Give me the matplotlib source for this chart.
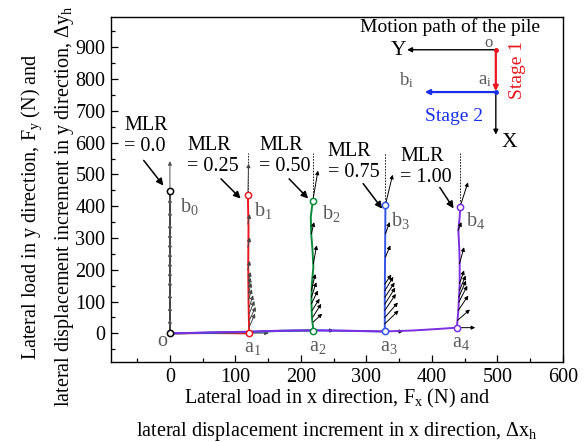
import matplotlib
matplotlib.use("Agg")
import matplotlib.pyplot as plt
from matplotlib.ticker import MultipleLocator

plt.rcParams["font.family"] = ["Liberation Serif", "DejaVu Serif"]
plt.rcParams["mathtext.fontset"] = "custom"
plt.rcParams["mathtext.rm"] = "Liberation Serif"
plt.rcParams["mathtext.it"] = "Liberation Serif:italic"

GRAY = "#5a5a5a"
COLORS = ["#3a3a3a", "#e81820", "#0c8a3c", "#3355e6", "#7a30e0"]
MLR = ["0.0", "0.25", "0.50", "0.75", "1.00"]

# load paths (x, y) for each MLR: stage 1 along x, stage 2 along y
path_x = [
    [0, 0],
    [0, 60, 121, 120, 119.5, 120, 119],
    [0, 60, 121, 170, 219, 216.7, 216, 216.7, 219, 217.7, 215.7, 215, 218],
    [0, 60, 121, 170, 219, 270, 328, 328, 328.5, 329],
    [0, 40, 80, 120, 160, 200, 240, 280, 328, 370, 410, 438,
     440.3, 442.3, 442.3, 441.8, 440.3, 442.3, 443.3],
]
path_y = [
    [0, 447],
    [0, 1, 0, 100, 220, 330, 434],
    [0, 2, 4, 8, 9, 51, 104, 157, 209, 261, 313, 366, 416],
    [0, 2, 5, 8, 10, 8, 6, 120, 260, 405],
    [0, 2, 4, 5, 8, 9, 9, 8, 6, 9, 14, 18,
     72, 156, 219, 261, 324, 366, 399],
]

# incremental displacement vectors: base x, base y, dx, dy
vec_x = [
    [0] * 13,
    [121, 121, 121, 121, 120, 120, 120, 120, 119, 119, 119, 119, 121],
    [219, 218, 217, 216, 216, 216, 219, 216, 218, 219],
    [328, 328, 328, 328, 328, 328, 328, 329, 329, 329, 328],
    [439, 440, 441, 441, 442, 442, 442, 440, 443, 438],
]
vec_y = [
    [20, 60, 100, 140, 170, 200, 230, 260, 290, 320, 360, 400, 447],
    [20, 41, 62, 82, 105, 125, 145, 165, 200, 271, 344, 434, 1],
    [36, 51, 72, 93, 114, 135, 219, 313, 416, 9],
    [30, 50, 72, 92, 113, 134, 155, 240, 313, 405, 6],
    [41, 72, 98, 114, 135, 156, 219, 324, 399, 18],
]
vec_u = [
    [0] * 13,
    [9, 10, 8, 6, 5, 4, 3, 3, 3, 3, 3, 1, 30],
    [13.5, 13, 11.5, 10, 7.5, 6, 5, 4, 8, 31],
    [21, 20, 17, 16, 15, 13, 10, 7.5, 6.5, 11, 28],
    [19, 15.5, 13, 11, 9.5, 7, 7, 5, 12, 28],
]
vec_v = [
    [25, 25, 25, 25, 25, 25, 25, 25, 25, 25, 25, 25, 95],
    [42, 42, 40, 38, 34, 34, 30, 28, 28, 31, 31, 100, 0],
    [26, 42, 37, 42, 47, 52, 58, 37, 96, 0],
    [42, 47, 52, 52, 47, 44, 30, 37, 37, 94, 0],
    [34, 47, 52, 52, 47, 42, 52, 26, 76, 0],
]
vec_color = ["#555555", "#444444", "k", "k", "k"]

# labels
mlr_pos = [(-70, 620), (26, 558), (136, 558), (241, 538), (351.5, 524)]
mlr_arrow_from = [(-40, 544), (78, 486), (182, 486), (295, 471), (412, 459)]
mlr_arrow_to = [(-10, 465), (108, 424), (211, 424), (324, 392), (433, 393)]
b_pos = [(15, 399), (129, 388), (232, 376), (338, 355), (451.5, 354)]
a_pos = [(127, -45), (225, -40), (334, -40), (444.7, -30)]
dash_top = 566


def arrow(ax, x0, y0, x1, y1, color="k", lw=0.9, ms=8):
    ax.annotate("", xy=(x1, y1), xytext=(x0, y0),
                arrowprops=dict(arrowstyle="-|>", color=color, lw=lw,
                                mutation_scale=ms, shrinkA=0, shrinkB=0))


fig = plt.figure(figsize=(5.84, 4.42), dpi=100)
ax = fig.add_axes([0.19, 0.181, 0.774, 0.7805])

for i in range(5):
    px, py = path_x[i], path_y[i]
    ax.plot(px, py, color=COLORS[i], lw=1.4, zorder=3)
    if i > 0:
        ax.plot([px[-1], px[-1]], [py[-1], dash_top], ls=(0, (2, 1.5)),
                color="k", lw=0.6, zorder=2)
    for x0, y0, u, v in zip(vec_x[i], vec_y[i], vec_u[i], vec_v[i]):
        arrow(ax, x0, y0, x0 + u, y0 + v, color=vec_color[i], lw=0.7, ms=5.5)

# start / end markers
ax.plot(0, 0, "o", ms=4.5, mfc="white", mec="k", mew=1.1, zorder=6)
for i in range(5):
    ax.plot(path_x[i][-1], path_y[i][-1], "o", ms=4.5, mfc="white",
            mec=COLORS[i] if i else "k", mew=1.1, zorder=6)
a_idx = [2, 4, 6, 11]
for i in range(1, 5):
    k = a_idx[i - 1]
    ax.plot(path_x[i][k], path_y[i][k], "o", ms=4.5, mfc="white",
            mec=COLORS[i], mew=1.1, zorder=6)

for i in range(5):
    ax.text(*mlr_pos[i], f"MLR\n= {MLR[i]}", fontsize=14.5, ha="left",
            va="center", linespacing=1.12)
    arrow(ax, *mlr_arrow_from[i], *mlr_arrow_to[i], lw=1.1, ms=10)
    ax.text(*b_pos[i], r"b$_{\mathregular{%d}}$" % i, fontsize=14.5,
            color=GRAY, ha="left", va="center")
for i in range(4):
    ax.text(*a_pos[i], r"a$_{\mathregular{%d}}$" % (i + 1), fontsize=14.5,
            color=GRAY, ha="center", va="center")
ax.text(-11, -25, "o", fontsize=14.5, color=GRAY, ha="center", va="center")

# inset: motion path of the pile
ax.text(427, 962, "Motion path of the pile", fontsize=14, ha="center",
        va="center")
arrow(ax, 497.5, 892, 362, 892, lw=1.0, ms=7)
arrow(ax, 497.5, 759, 497.5, 625, lw=1.0, ms=7)
arrow(ax, 497.5, 892, 497.5, 762, color="#e81820", lw=1.6, ms=7)
arrow(ax, 497.5, 759, 389, 759, color="#1a2ee8", lw=1.6, ms=7)
ax.plot(497.5, 892, "o", ms=2.5, color="#e81820", zorder=6)
ax.plot(497.5, 759, "o", ms=2.5, color="#1a2ee8", zorder=6)
ax.text(349, 890, "Y", fontsize=15.5, ha="center", va="center")
ax.text(518, 601, "X", fontsize=15.5, ha="center", va="center")
ax.text(487, 912, "o", fontsize=12, color=GRAY, ha="center", va="center")
ax.text(481, 796, r"a$_{\mathregular{i}}$", fontsize=13.5, color=GRAY,
        ha="center", va="center")
ax.text(361, 796, r"b$_{\mathregular{i}}$", fontsize=13.5, color=GRAY,
        ha="center", va="center")
ax.text(530, 827, "Stage 1", fontsize=14, color="#e81820", rotation=90,
        ha="center", va="center")
ax.text(433, 682, "Stage 2", fontsize=14, color="#1a2ee8", ha="center",
        va="center")

ax.set_xlim(-90, 600)
ax.set_ylim(-90, 995)
ax.xaxis.set_major_locator(MultipleLocator(100))
ax.xaxis.set_minor_locator(MultipleLocator(50))
ax.yaxis.set_major_locator(MultipleLocator(100))
ax.yaxis.set_minor_locator(MultipleLocator(50))
ax.tick_params(which="both", direction="in", labelsize=14.5, width=0.9)
ax.tick_params(which="major", length=5, pad=4)
ax.tick_params(which="minor", length=3)
for s in ax.spines.values():
    s.set_linewidth(1.0)

ax.set_xlabel("Lateral load in x direction, F$_{\\mathregular{x}}$ (N) and\n"
              "lateral displacement increment in x direction, "
              "Δx$_{\\mathregular{h}}$", fontsize=14.5, linespacing=1.65,
              labelpad=0)
ax.set_ylabel("Lateral load in y direction, F$_{\\mathregular{y}}$ (N) and\n"
              "lateral displacement increment in y direction, "
              "Δy$_{\\mathregular{h}}$", fontsize=14.5, linespacing=1.55)
ax.yaxis.set_label_coords(-0.078, 0.45)

fig.savefig("out.png", dpi=100)
